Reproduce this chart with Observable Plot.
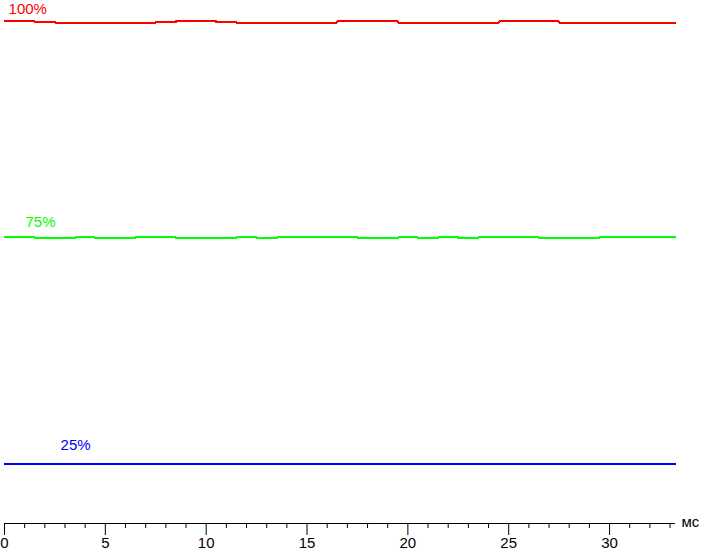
<!DOCTYPE html>
<html>
<head>
<meta charset="utf-8">
<script src="https://cdn.jsdelivr.net/npm/d3@7"></script>
<script src="https://cdn.jsdelivr.net/npm/@observablehq/plot@0.6"></script>
<style>
  html, body { margin: 0; padding: 0; background: #fff; }
</style>
</head>
<body>
<div id="chart"></div>
<script>
// time, ms
const times = [0,1,2,3,4,5,6,7,8,9,10,11,12,13,14,15,16,17,18,19,20,21,22,23,24,25,26,27,28,29,30,31,32,33,33.27];
// relative brightness (arbitrary units, 0 = axis)
const red   = [100.2,100.2,100.1,100.0,100.0,100.0,99.9,100.0,100.1,100.3,100.3,100.1,100.0,100.0,99.9,99.9,100.0,100.2,100.3,100.2,100.0,99.9,100.0,100.0,100.0,100.2,100.3,100.2,100.0,99.9,99.9,100.0,99.9,99.9,99.9];
const green = [57.1,57.1,57.0,57.0,57.1,57.0,57.0,57.1,57.1,57.0,57.0,57.0,57.1,57.0,57.1,57.2,57.1,57.1,57.0,57.0,57.1,57.0,57.1,57.0,57.1,57.1,57.1,57.0,57.0,57.0,57.1,57.1,57.1,57.1,57.1];
const blue  = [11.8,11.8,11.8,11.8,11.8,11.8,11.8,11.8,11.9,11.8,11.8,11.8,11.8,11.8,11.8,11.8,11.8,11.8,11.8,11.8,11.8,11.9,11.8,11.8,11.8,11.8,11.8,11.8,11.8,11.8,11.8,11.8,11.8,11.8,11.8];
const seriesNames  = ["100%", "75%", "25%"];
const seriesColors = ["#ff0000", "#00ff00", "#0000ff"];
const labelTimes   = [0.2, 1.04, 2.78];
const majorTicks = [0, 5, 10, 15, 20, 25, 30];
const minorTicks = d3.range(0, 34).filter(d => d % 5 !== 0);
const unitLabel = "мс";

const seriesValues = [red, green, blue];
const data = [];
seriesNames.forEach((name, i) => {
  times.forEach((t, j) => data.push({series: name, t, v: seriesValues[i][j]}));
});
const labels = seriesNames.map((name, i) => ({series: name, t: labelTimes[i], v: seriesValues[i][0]}));
const labelDy = [-12, -15.5, -19];

const FONT = "'Liberation Sans', Arial, sans-serif";
const chart = Plot.plot({
  width: 703,
  height: 551,
  marginLeft: 4,
  marginRight: 28,
  marginTop: 22,
  marginBottom: 28,
  style: {fontFamily: FONT, fontSize: "15px", color: "black", background: "white", overflow: "visible"},
  x: {domain: [0, 33.27], label: null},
  y: {domain: [0, 100], axis: null},
  color: {domain: seriesNames, range: seriesColors},
  marks: [
    Plot.ruleY([0], {stroke: "black", strokeWidth: 1, shapeRendering: "crispEdges"}),
    Plot.axisX({ticks: minorTicks, tickSize: 5, tickFormat: () => "", stroke: "black", label: null}),
    Plot.axisX({ticks: majorTicks, tickSize: 12, tickPadding: 2, fontSize: 15, fill: "black", stroke: "black", label: null}),
    Plot.line(data, {x: "t", y: "v", z: "series", stroke: "series", strokeWidth: 2, curve: "step", shapeRendering: "crispEdges"}),
    ...labels.map((l, i) => Plot.text([l], {x: "t", y: "v", text: "series", fill: seriesColors[i], textAnchor: "start", dy: labelDy[i], fontSize: 15})),
    Plot.text([{t: 33.27, v: 0}], {x: "t", y: "v", text: () => unitLabel, textAnchor: "start", dx: 6, dy: -1, fontSize: 15, fill: "black"})
  ]
});
document.getElementById("chart").appendChild(chart);
</script>
</body>
</html>
